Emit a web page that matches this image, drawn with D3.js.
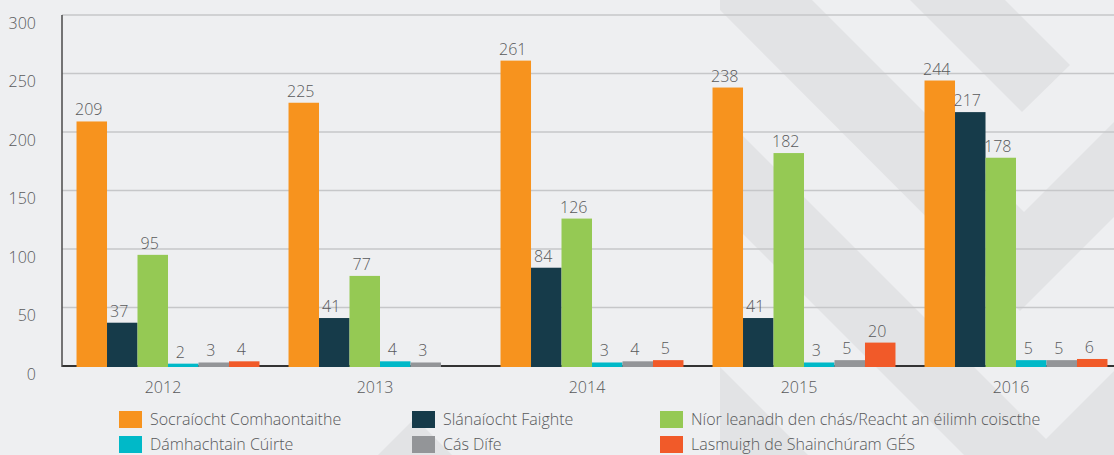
<!doctype html>
<html lang="ga">
  <head>
    <meta charset="utf-8">
    <title>Cásanna 2012-2016</title>
    <script src="https://d3js.org/d3.v7.min.js"></script>
    <style>
    body {
      margin: 0;
      background: #eeeff1;
    }

    svg text {
      font-family: "Open Sans", sans-serif;
      font-weight: 300;
      fill: #58595b;
    }

    .grid line {
      stroke: #c6c7c9;
      stroke-width: 1.5;
    }

    .stripe {
      fill: #e2e3e5;
    }
    </style>
  </head>

  <body>
    <svg width="1114" height="455"></svg>

    <script>
      // categories and series
      var years = ['2012', '2013', '2014', '2015', '2016'];
      var seriesNames = [
        'Socraíocht Comhaontaithe',
        'Slánaíocht Faighte',
        'Níor leanadh den chás/Reacht an éilimh coiscthe',
        'Dámhachtain Cúirte',
        'Cás Dífe',
        'Lasmuigh de Shainchúram GÉS'
      ];
      var seriesColors = ['#f7931e', '#163b4a', '#95c954', '#00b9c8', '#939598', '#f15a29'];

      // one array per series, one value per year (null = no bar)
      var socraiocht = [209, 225, 261, 238, 244];
      var slanaiocht = [37, 41, 84, 41, 217];
      var niorLeanadh = [95, 77, 126, 182, 178];
      var damhachtain = [2, 4, 3, 3, 5];
      var casDife = [3, 3, 4, 5, 5];
      var lasmuigh = [4, null, 5, 20, 6];

      var yTicks = [0, 50, 100, 150, 200, 250, 300];

      var seriesValues = [socraiocht, slanaiocht, niorLeanadh, damhachtain, casDife, lasmuigh];

      var svg = d3.select('svg');
      var W = 1114, H = 455;

      // background watermark (decoration only)
      var stripes = [
        [[720,0],[812,0],[1024,212],[1114,122],[1114,217],[1020,311],[720,10]],
        [[910,0],[1005,0],[1070,65],[1022,112]],
        [[743,136],[1062,455],[964,455],[720,211],[720,159]],
        [[720,367],[808,455],[720,455]],
        [[1030,455],[1114,371],[1114,455]],
        [[415,418],[452,455],[378,455]]
      ];
      svg.append('g').selectAll('polygon').data(stripes)
        .enter().append('polygon')
          .attr('class', 'stripe')
          .attr('points', function(d){ return d.join(' '); });

      var x0 = d3.scaleBand()
        .domain(years)
        .range([62, 1122])
        .paddingInner(0.137)
        .paddingOuter(0.0685);

      var x1 = d3.scaleBand()
        .domain(d3.range(seriesNames.length))
        .range([0, x0.bandwidth()]);

      var y = d3.scaleLinear()
        .domain([0, 300])
        .range([366, 15]);

      // gridlines
      svg.append('g').attr('class', 'grid')
        .selectAll('line').data(yTicks.filter(function(t){ return t > 0; }))
        .enter().append('line')
          .attr('x1', 62).attr('x2', W)
          .attr('y1', function(d){ return y(d); })
          .attr('y2', function(d){ return y(d); });

      // y axis labels
      var yAxis = d3.axisLeft(y).tickValues(yTicks).tickSize(0).tickPadding(26);
      var yg = svg.append('g')
        .attr('transform', 'translate(62,0)')
        .call(yAxis);
      yg.select('.domain').remove();
      yg.selectAll('text')
        .attr('dy', '0.32em')
        .attr('y', 8)
        .style('font-size', '16px');

      // baseline and left axis line
      svg.append('line')
        .attr('x1', 62).attr('x2', W)
        .attr('y1', y(0)).attr('y2', y(0))
        .attr('stroke', '#333').attr('stroke-width', 2);
      svg.append('line')
        .attr('x1', 62).attr('x2', 62)
        .attr('y1', y(300)).attr('y2', y(0) + 1)
        .attr('stroke', '#4a4a4a').attr('stroke-width', 1.5);

      // bars
      var groups = svg.append('g').selectAll('g').data(years)
        .enter().append('g')
          .attr('transform', function(d){ return 'translate(' + x0(d) + ',0)'; });

      var cells = groups.selectAll('g')
        .data(function(year, i){
          return seriesValues.map(function(vals, s){ return {s: s, v: vals[i]}; })
            .filter(function(d){ return d.v != null; });
        })
        .enter().append('g');

      cells.append('rect')
        .attr('x', function(d){ return x1(d.s); })
        .attr('width', x1.bandwidth())
        .attr('y', function(d){ return y(d.v); })
        .attr('height', function(d){ return y(0) + 1 - y(d.v); })
        .attr('fill', function(d){ return seriesColors[d.s]; });

      cells.append('text')
        .attr('x', function(d){ return x1(d.s) + x1.bandwidth() / 2 - 3; })
        .attr('y', function(d){ return y(d.v) - 6; })
        .attr('text-anchor', 'middle')
        .style('font-size', '16px')
        .text(function(d){ return d.v; });

      // x axis labels
      var xAxis = d3.axisBottom(x0).tickSize(0).tickPadding(0);
      var xg = svg.append('g')
        .attr('transform', 'translate(-5,' + (y(0)) + ')')
        .call(xAxis);
      xg.select('.domain').remove();
      xg.selectAll('text')
        .attr('dy', 0)
        .attr('y', 27)
        .style('font-size', '16px');

      // legend, three columns
      var legendX = [119, 412, 660];
      var legend = svg.append('g').selectAll('g').data(seriesNames)
        .enter().append('g')
          .attr('transform', function(d, i){
            return 'translate(' + legendX[i % 3] + ',' + (411 + Math.floor(i / 3) * 25) + ')';
          });
      legend.append('rect')
        .attr('width', 23).attr('height', 17)
        .attr('fill', function(d, i){ return seriesColors[i]; });
      legend.append('text')
        .attr('x', 31).attr('y', 14)
        .style('font-size', '16px')
        .text(function(d){ return d; });
    </script>
  </body>
</html>
